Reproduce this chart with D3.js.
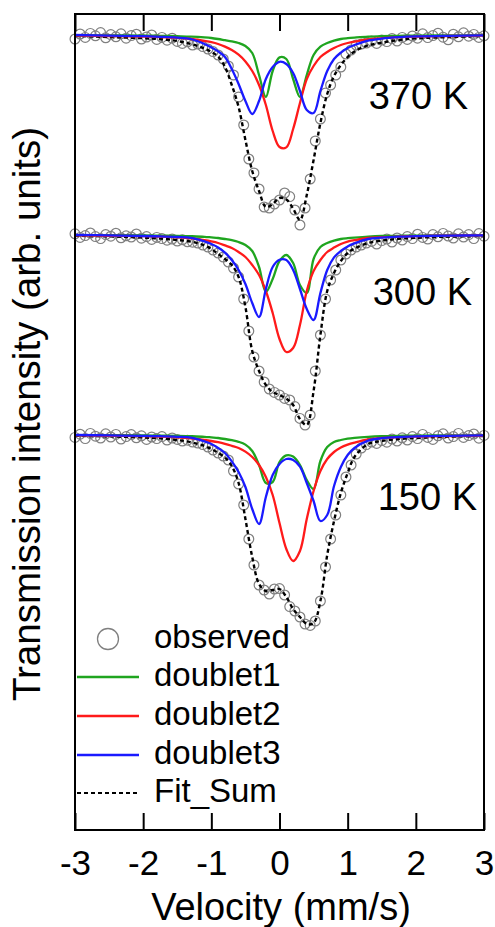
<!DOCTYPE html>
<html>
<head>
<meta charset="utf-8">
<script src="https://cdn.jsdelivr.net/npm/d3@7/dist/d3.min.js"></script>
<style>
  html, body { margin: 0; padding: 0; background: #fff; }
  svg { display: block; }
</style>
</head>
<body>
<svg id="chart" width="495" height="927"></svg>
<script>
// ---------------- DATA ----------------
const xTicks = [-3, -2, -1, 0, 1, 2, 3];
const panelLabels = ["370 K", "300 K", "150 K"];
const panelOffsets = [2, 1, 0];
const legendLabels = ["observed", "doublet1", "doublet2", "doublet3", "Fit_Sum"];

// velocity (mm/s) of observed points
const obsVelocity = [
  -3.000, -2.925, -2.850, -2.775, -2.700, -2.625, -2.550, -2.475, -2.400, -2.325,
  -2.250, -2.175, -2.100, -2.025, -1.950, -1.875, -1.800, -1.725, -1.650, -1.575,
  -1.500, -1.425, -1.350, -1.275, -1.200, -1.125, -1.050, -0.975, -0.900, -0.825,
  -0.750, -0.675, -0.600, -0.525, -0.450, -0.375, -0.300, -0.225, -0.150, -0.075,
   0.000,  0.075,  0.150,  0.225,  0.300,  0.375,  0.450,  0.525,  0.600,  0.675,
   0.750,  0.825,  0.900,  0.975,  1.050,  1.125,  1.200,  1.275,  1.350,  1.425,
   1.500,  1.575,  1.650,  1.725,  1.800,  1.875,  1.950,  2.025,  2.100,  2.175,
   2.250,  2.325,  2.400,  2.475,  2.550,  2.625,  2.700,  2.775,  2.850,  2.925,
   3.000
];

// observed relative transmission (0 = baseline), per temperature
const obs370 = [
  -0.020, 0.005, -0.012, 0.008, -0.004, 0.012, -0.014, 0.002, -0.009, 0.006,
  -0.016, -0.003, 0.004, -0.020, -0.010, 0.000, -0.022, -0.012, -0.026, -0.016,
  -0.032, -0.042, -0.034, -0.050,
  -0.045, -0.058, -0.070, -0.083, -0.100, -0.120, -0.155, -0.200, -0.310, -0.450,
  -0.620, -0.690, -0.770, -0.860, -0.865, -0.845, -0.825, -0.790, -0.808, -0.875,
  -0.950, -0.865, -0.720, -0.530, -0.420, -0.290, -0.250, -0.200, -0.160, -0.095,
  -0.075, -0.050, -0.045,
  -0.040, -0.030, -0.042, -0.025, -0.033, -0.018, -0.030, -0.012, -0.022, -0.005,
  -0.016, 0.006, -0.013, -0.003, 0.009, -0.011, -0.024, 0.004, -0.009, 0.011,
  -0.006, 0.003, -0.012, -0.004
];
const obs300 = [
  0.006, -0.012, -0.003, 0.010, -0.008, -0.018, 0.002, -0.006, 0.009, -0.014,
  -0.004, -0.010, 0.005, -0.016, -0.008, -0.022, -0.012, -0.018, -0.026, -0.020,
  -0.030, -0.024, -0.034, -0.036,
  -0.040, -0.050, -0.060, -0.075, -0.090, -0.110, -0.135, -0.165, -0.210, -0.320,
  -0.480, -0.610, -0.680, -0.735, -0.770, -0.787, -0.800, -0.817, -0.825, -0.858,
  -0.917, -0.950, -0.900, -0.680, -0.500, -0.320, -0.225, -0.175, -0.125, -0.095,
  -0.075, -0.060, -0.050,
  -0.040, -0.032, -0.045, -0.028, -0.020, -0.035, -0.015, -0.025, -0.008, -0.018,
  0.004, -0.012, -0.020, 0.002, -0.009, 0.008, -0.005, -0.015, 0.006, -0.010,
  0.002, -0.018, 0.007, -0.006
];
const obs150 = [
  -0.012, 0.004, -0.018, 0.008, -0.006, -0.015, 0.006, -0.010, 0.003, -0.020,
  -0.008, 0.002, -0.014, -0.004, -0.022, -0.010, -0.018, -0.008, -0.025, -0.015,
  -0.022, -0.030, -0.026, -0.035,
  -0.040, -0.048, -0.060, -0.075, -0.090, -0.105, -0.125, -0.180, -0.245, -0.350,
  -0.520, -0.650, -0.750, -0.775, -0.795, -0.770, -0.768, -0.800, -0.858, -0.880,
  -0.910, -0.945, -0.952, -0.930, -0.830, -0.660, -0.520, -0.400, -0.300, -0.210,
  -0.150, -0.095, -0.065,
  -0.048, -0.035, -0.042, -0.028, -0.036, -0.020, -0.030, -0.014, -0.025, -0.008,
  -0.018, 0.003, -0.012, -0.022, -0.004, 0.006, -0.015, -0.008, 0.008, -0.012,
  -0.003, 0.005, -0.016, -0.002
];

// velocity grid of the fitted curves
const fitVelocity = [
  -3, -2.5, -2, -1.75, -1.5, -1.3, -1.1, -1.0, -0.9, -0.8, -0.7, -0.6, -0.5, -0.4,
  -0.3, -0.2, -0.1, 0, 0.1, 0.2, 0.3, 0.4, 0.5, 0.6, 0.7, 0.8, 0.9, 1.0, 1.1,
  1.3, 1.5, 1.75, 2, 2.5, 3
];

// 370 K
const doublet1_370 = [
  -0.001, -0.002, -0.003, -0.004, -0.006, -0.008, -0.012, -0.015, -0.020, -0.026, -0.032, -0.040, -0.055, -0.090,
  -0.200, -0.310, -0.180, -0.112, -0.120, -0.220, -0.310, -0.200, -0.100, -0.058, -0.040, -0.028, -0.020, -0.016, -0.013,
  -0.008, -0.006, -0.004, -0.003, -0.002, -0.001
];
const doublet2_370 = [
  -0.003, -0.005, -0.008, -0.010, -0.014, -0.020, -0.030, -0.036, -0.045, -0.058, -0.075, -0.098, -0.132, -0.180,
  -0.250, -0.350, -0.480, -0.560, -0.562, -0.470, -0.340, -0.220, -0.155, -0.110, -0.085, -0.065, -0.050, -0.040, -0.033,
  -0.022, -0.016, -0.011, -0.008, -0.005, -0.003
];
const doublet3_370 = [
  0.000, -0.003, -0.006, -0.009, -0.013, -0.020, -0.045, -0.062, -0.082, -0.110, -0.170, -0.245, -0.330, -0.395,
  -0.330, -0.220, -0.160, -0.134, -0.145, -0.190, -0.280, -0.375, -0.390, -0.280, -0.180, -0.120, -0.088, -0.065, -0.050,
  -0.028, -0.018, -0.011, -0.007, -0.004, -0.002
];
const fitSum_370 = [
  -0.004, -0.010, -0.016, -0.021, -0.030, -0.045, -0.068, -0.085, -0.108, -0.160, -0.250, -0.360, -0.525, -0.680,
  -0.780, -0.860, -0.845, -0.815, -0.822, -0.868, -0.925, -0.800, -0.625, -0.440, -0.295, -0.205, -0.150, -0.110, -0.082,
  -0.052, -0.038, -0.025, -0.017, -0.010, -0.005
];

// 300 K
const doublet1_300 = [
  -0.001, -0.001, -0.002, -0.003, -0.004, -0.006, -0.009, -0.012, -0.015, -0.020, -0.026, -0.035, -0.050, -0.080,
  -0.160, -0.285, -0.220, -0.130, -0.100, -0.140, -0.250, -0.290, -0.120, -0.060, -0.040, -0.028, -0.020, -0.016, -0.013,
  -0.008, -0.005, -0.004, -0.003, -0.002, -0.001
];
const doublet2_300 = [
  -0.002, -0.004, -0.006, -0.008, -0.012, -0.017, -0.026, -0.032, -0.040, -0.052, -0.065, -0.085, -0.110, -0.150,
  -0.200, -0.280, -0.390, -0.520, -0.585, -0.565, -0.450, -0.280, -0.180, -0.125, -0.085, -0.063, -0.045, -0.033, -0.026,
  -0.015, -0.011, -0.008, -0.006, -0.003, -0.002
];
const doublet3_300 = [
  0.000, -0.002, -0.005, -0.007, -0.010, -0.014, -0.032, -0.045, -0.062, -0.088, -0.125, -0.175, -0.245, -0.340,
  -0.410, -0.270, -0.160, -0.124, -0.125, -0.175, -0.270, -0.370, -0.425, -0.290, -0.175, -0.112, -0.080, -0.057, -0.042,
  -0.020, -0.013, -0.008, -0.006, -0.003, -0.002
];
const fitSum_300 = [
  -0.004, -0.007, -0.013, -0.018, -0.025, -0.033, -0.052, -0.070, -0.095, -0.120, -0.150, -0.210, -0.360, -0.580,
  -0.680, -0.750, -0.785, -0.800, -0.818, -0.850, -0.920, -0.950, -0.780, -0.500, -0.280, -0.190, -0.130, -0.090, -0.068,
  -0.040, -0.028, -0.019, -0.014, -0.008, -0.005
];

// 150 K
const doublet1_150 = [
  -0.001, -0.001, -0.002, -0.003, -0.004, -0.006, -0.009, -0.012, -0.015, -0.020, -0.026, -0.034, -0.048, -0.080,
  -0.150, -0.240, -0.235, -0.135, -0.102, -0.108, -0.150, -0.225, -0.270, -0.130, -0.060, -0.035, -0.025, -0.018, -0.014,
  -0.009, -0.006, -0.004, -0.003, -0.002, -0.001
];
const doublet2_150 = [
  -0.002, -0.004, -0.006, -0.008, -0.012, -0.017, -0.025, -0.030, -0.036, -0.044, -0.054, -0.065, -0.083, -0.110,
  -0.150, -0.210, -0.300, -0.440, -0.570, -0.630, -0.580, -0.420, -0.280, -0.180, -0.120, -0.085, -0.062, -0.048, -0.038,
  -0.022, -0.015, -0.011, -0.008, -0.005, -0.003
];
const doublet3_150 = [
  0.000, -0.002, -0.004, -0.006, -0.009, -0.013, -0.032, -0.045, -0.065, -0.090, -0.132, -0.185, -0.260, -0.370,
  -0.445, -0.310, -0.200, -0.145, -0.120, -0.125, -0.158, -0.240, -0.330, -0.430, -0.400, -0.255, -0.160, -0.100, -0.065,
  -0.028, -0.016, -0.010, -0.007, -0.004, -0.002
];
const fitSum_150 = [
  -0.004, -0.007, -0.012, -0.017, -0.025, -0.036, -0.055, -0.070, -0.090, -0.112, -0.155, -0.240, -0.420, -0.610,
  -0.745, -0.780, -0.775, -0.770, -0.810, -0.870, -0.910, -0.945, -0.940, -0.830, -0.600, -0.430, -0.290, -0.190, -0.110,
  -0.045, -0.030, -0.020, -0.015, -0.008, -0.005
];

// ---------------- LAYOUT / STYLE ----------------
const W = 495, H = 927;
const frame = { left: 75, right: 484, top: 14, bottom: 830 };
const labelPos = [[468, 109], [472, 305], [477, 510]];
const FONT = "Arial, 'Liberation Sans', sans-serif";
const colors = { d1: "#1fa51f", d2: "#ff1a1a", d3: "#1a1aff", sum: "#000", obs: "#808080" };
const LW = 2.3;

const panels = [
  { label: panelLabels[0], off: panelOffsets[0], obs: obs370, d1: doublet1_370, d2: doublet2_370, d3: doublet3_370, sum: fitSum_370 },
  { label: panelLabels[1], off: panelOffsets[1], obs: obs300, d1: doublet1_300, d2: doublet2_300, d3: doublet3_300, sum: fitSum_300 },
  { label: panelLabels[2], off: panelOffsets[2], obs: obs150, d1: doublet1_150, d2: doublet2_150, d3: doublet3_150, sum: fitSum_150 }
];

const svg = d3.select("#chart");
svg.append("rect").attr("width", W).attr("height", H).attr("fill", "#fff");

const x = d3.scaleLinear().domain([-3, 3]).range([frame.left, frame.right]);
const y = d3.scaleLinear().domain([-1.975, 2.105]).range([frame.bottom, frame.top]);

const line = d3.line()
  .x(d => x(d[0]))
  .y(d => y(d[1]))
  .curve(d3.curveCatmullRom.alpha(0.5));

const plot = svg.append("g");

panels.forEach((p, i) => {
  const g = plot.append("g");
  g.selectAll("circle.obs")
    .data(obsVelocity.map((v, k) => [v, p.obs[k] + p.off]))
    .join("circle")
    .attr("class", "obs")
    .attr("cx", d => x(d[0]))
    .attr("cy", d => y(d[1]))
    .attr("r", 4.9)
    .attr("fill", "none")
    .attr("stroke", colors.obs)
    .attr("stroke-width", 1.2);

  const series = (arr) => fitVelocity.map((v, k) => [v, arr[k] + p.off]);

  g.append("path").attr("d", line(series(p.sum)))
    .attr("fill", "none").attr("stroke", colors.sum)
    .attr("stroke-width", 2.4).attr("stroke-dasharray", "4,3");
  g.append("path").attr("d", line(series(p.d1)))
    .attr("fill", "none").attr("stroke", colors.d1).attr("stroke-width", LW);
  g.append("path").attr("d", line(series(p.d2)))
    .attr("fill", "none").attr("stroke", colors.d2).attr("stroke-width", LW);
  g.append("path").attr("d", line(series(p.d3)))
    .attr("fill", "none").attr("stroke", colors.d3).attr("stroke-width", LW);

  svg.append("text")
    .attr("x", labelPos[i][0]).attr("y", labelPos[i][1])
    .attr("text-anchor", "end")
    .attr("font-family", FONT).attr("font-size", 38)
    .attr("fill", "#000")
    .text(p.label);
});

// frame
svg.append("rect")
  .attr("x", frame.left).attr("y", frame.top)
  .attr("width", frame.right - frame.left).attr("height", frame.bottom - frame.top)
  .attr("fill", "none").attr("stroke", "#000").attr("stroke-width", 2);

// bottom axis
const xb = svg.append("g").attr("transform", `translate(0,${frame.bottom})`)
  .call(d3.axisBottom(x).tickValues(xTicks).tickSize(-17).tickPadding(20).tickFormat(d => String(d)));
xb.select(".domain").remove();
xb.selectAll("line").attr("stroke", "#000").attr("stroke-width", 2);
xb.selectAll("text").attr("font-family", FONT).attr("font-size", 35).attr("fill", "#000");

// top axis
const xt = svg.append("g").attr("transform", `translate(0,${frame.top})`)
  .call(d3.axisTop(x).tickValues(xTicks).tickSize(-17).tickFormat(""));
xt.select(".domain").remove();
xt.selectAll("line").attr("stroke", "#000").attr("stroke-width", 2);

// axis titles
svg.append("text")
  .attr("x", 281).attr("y", 920)
  .attr("text-anchor", "middle")
  .attr("font-family", FONT).attr("font-size", 38).attr("fill", "#000")
  .text("Velocity (mm/s)");
svg.append("text")
  .attr("transform", "translate(40,414) rotate(-90)")
  .attr("text-anchor", "middle")
  .attr("font-family", FONT).attr("font-size", 38.5).attr("fill", "#000")
  .text("Transmission intensity (arb. units)");

// legend
const lg = svg.append("g");
const legendRows = [
  { type: "circle", color: colors.obs },
  { type: "line", color: colors.d1 },
  { type: "line", color: colors.d2 },
  { type: "line", color: colors.d3 },
  { type: "dash", color: colors.sum }
];
const rowY = [639, 677, 716, 755, 793];
legendRows.forEach((r, i) => {
  if (r.type === "circle") {
    lg.append("circle").attr("cx", 108).attr("cy", rowY[i]).attr("r", 10.5)
      .attr("fill", "none").attr("stroke", r.color).attr("stroke-width", 1.3);
  } else {
    lg.append("line").attr("x1", 77).attr("x2", 139).attr("y1", rowY[i]).attr("y2", rowY[i])
      .attr("stroke", r.color).attr("stroke-width", r.type === "dash" ? 2 : LW)
      .attr("stroke-dasharray", r.type === "dash" ? "4,3" : null);
  }
  lg.append("text").attr("x", 154).attr("y", rowY[i] + 8.5)
    .attr("font-family", FONT).attr("font-size", 33).attr("fill", "#000")
    .text(legendLabels[i]);
});
</script>
</body>
</html>
